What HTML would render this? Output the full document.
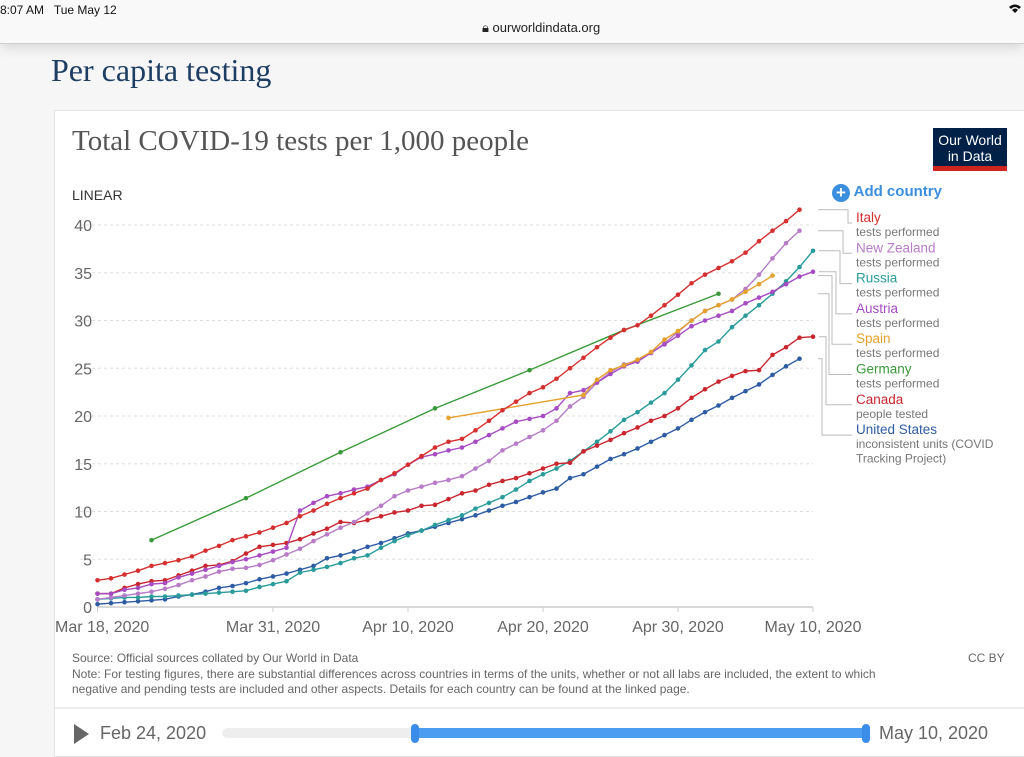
<!DOCTYPE html>
<html><head><meta charset="utf-8">
<style>
html,body{margin:0;padding:0;width:1024px;height:750px;overflow:hidden;background:#f6f6f6;font-family:"Liberation Sans",sans-serif;}
#topbar{position:absolute;left:0;top:0;width:1024px;height:43px;background:#f9f9f9;border-bottom:1px solid #cfcfcf;box-shadow:0 4px 12px rgba(0,0,0,0.12);}
.abs{position:absolute;}
#card{position:absolute;left:54px;top:110px;width:980px;height:645px;background:#fff;border:1px solid #e4e4e4;}
</style></head><body>
<div id="topbar">
  <div class="abs" style="left:0;top:3px;font-size:12px;color:#111">8:07 AM&nbsp;&nbsp; Tue May 12</div>
  <div class="abs" style="left:482px;top:20px;font-size:13px;color:#222">&#128274;&#xFE0E; ourworldindata.org</div>
  <svg class="abs" style="left:1008px;top:3px" width="14" height="11"><path d="M1 4 Q7 -1 13 4 L11 6 Q7 2 3 6Z M4 7 Q7 4 10 7 L7 10Z" fill="#111"/></svg>
</div>
<div class="abs" style="left:51px;top:52px;font-family:'Liberation Serif',serif;font-size:32px;color:#1d3d63">Per capita testing</div>
<div id="card"></div>
<div class="abs" style="left:72px;top:125px;font-family:'Liberation Serif',serif;font-size:29px;color:#555">Total COVID-19 tests per 1,000 people</div>
<div class="abs" style="left:933px;top:128px;width:74px;height:43px;background:#002147;color:#fff;font-size:14px;line-height:16px;text-align:center;border-bottom:5px solid #ce261e;box-sizing:border-box;padding-top:4px">Our World<br>in Data</div>
<div class="abs" style="left:72px;top:187px;font-size:14px;color:#333">LINEAR</div>
<div class="abs" style="left:832px;top:183px;font-size:15px;color:#3b8fde;font-weight:bold"><span style="display:inline-block;width:18px;height:18px;border-radius:9px;background:#3b8fde;color:#fff;text-align:center;line-height:18px;font-size:17px;vertical-align:-2px">+</span> Add country</div>

<svg id="chart" class="abs" style="left:0;top:0" width="1024" height="750"></svg>

<div class="abs" style="left:72px;top:651px;font-size:12px;color:#666;line-height:15.5px;width:900px">Source: Official sources collated by Our World in Data<br>Note: For testing figures, there are substantial differences across countries in terms of the units, whether or not all labs are included, the extent to which<br>negative and pending tests are included and other aspects. Details for each country can be found at the linked page.</div>
<div class="abs" style="left:968px;top:651px;font-size:12px;color:#666">CC BY</div>
<div class="abs" style="left:55px;top:707px;width:969px;height:2px;background:#ececec"></div>
<div class="abs" style="left:74px;top:724px;width:0;height:0;border-left:15px solid #666;border-top:10px solid transparent;border-bottom:10px solid transparent"></div>
<div class="abs" style="left:100px;top:723px;font-size:18px;color:#666">Feb 24, 2020</div>
<div class="abs" style="left:222px;top:728px;width:648px;height:10px;border-radius:5px;background:#eee"></div>
<div class="abs" style="left:414px;top:728px;width:456px;height:10px;background:#4a9df0"></div>
<div class="abs" style="left:411px;top:724px;width:8px;height:19px;border-radius:4px;background:#3a8de8"></div>
<div class="abs" style="left:862px;top:724px;width:8px;height:19px;border-radius:4px;background:#3a8de8"></div>
<div class="abs" style="left:879px;top:723px;font-size:18px;color:#666">May 10, 2020</div>

<script>
const yTicks=[0,5,10,15,20,25,30,35,40];
const xTickDays=[0,13,23,33,43,53];
const xTickLabels=["Mar 18, 2020","Mar 31, 2020","Apr 10, 2020","Apr 20, 2020","Apr 30, 2020","May 10, 2020"];
const countries=["Italy","New Zealand","Russia","Austria","Spain","Germany","Canada","United States"];
const subtitles=["tests performed","tests performed","tests performed","tests performed","tests performed","tests performed","people tested","inconsistent units (COVID|Tracking Project)"];
const colors=["#d62f2f","#b77bc8","#2a9b9b","#a74bc2","#e5a12a","#3a9a3a","#c9262f","#2e5ca3"];
const italyVals=[2.8,3.0,3.4,3.8,4.3,4.6,4.9,5.3,5.9,6.4,7.0,7.4,7.8,8.3,8.8,9.5,10.1,10.8,11.4,11.9,12.4,13.3,14.0,14.9,15.8,16.7,17.3,17.6,18.5,19.5,20.6,21.5,22.4,23.0,23.9,25.0,26.1,27.2,28.2,29.0,29.5,30.5,31.6,32.7,33.9,34.8,35.5,36.2,37.1,38.3,39.4,40.4,41.6];
const nzVals=[0.8,1.0,1.2,1.4,1.6,1.9,2.3,2.8,3.2,3.7,4.0,4.1,4.4,4.9,5.5,6.1,6.9,7.6,8.3,8.9,9.8,10.6,11.6,12.2,12.6,13.0,13.3,13.7,14.5,15.3,16.4,17.1,17.8,18.5,19.5,21.0,22.0,23.5,24.6,25.4,25.8,26.6,27.6,28.8,30.0,31.0,31.6,32.2,33.3,34.8,36.5,38.1,39.4];
const russiaVals=[0.8,0.9,1.0,1.0,1.1,1.1,1.2,1.3,1.4,1.5,1.6,1.7,2.1,2.4,2.7,3.6,3.9,4.2,4.6,5.1,5.4,6.2,6.9,7.5,8.0,8.6,9.1,9.6,10.3,10.9,11.5,12.3,13.2,13.9,14.5,15.3,16.3,17.3,18.4,19.6,20.4,21.4,22.4,23.8,25.3,26.9,27.8,29.3,30.5,31.6,32.8,34.1,35.6,37.3];
const austriaVals=[1.4,1.4,1.8,2.0,2.4,2.5,3.1,3.5,3.9,4.3,4.7,5.0,5.4,5.8,6.2,10.1,10.9,11.6,11.9,12.3,12.6,13.3,13.9,14.9,15.7,16.0,16.4,16.7,17.3,18.0,18.7,19.4,19.7,20.0,20.8,22.4,22.7,23.5,24.4,25.2,25.7,26.6,27.5,28.4,29.4,30.0,30.5,31.0,31.8,32.4,33.0,33.8,34.6,35.1];
const spainDays=[26,36,37,38,39,40,41,42,43,44,45,46,47,48,49,50];
const spainVals=[19.8,22.2,23.8,24.8,25.3,25.9,26.7,28.0,28.9,30.0,31.0,31.6,32.2,33.0,33.8,34.7];
const germanyDays=[4,11,18,25,32,39,46];
const germanyVals=[7.0,11.4,16.2,20.8,24.8,29.0,32.8];
const canadaVals=[1.4,1.4,2.0,2.4,2.7,2.8,3.3,3.8,4.3,4.4,4.8,5.6,6.3,6.5,6.7,7.1,7.7,8.2,8.9,8.8,9.1,9.5,9.9,10.1,10.6,10.7,11.3,11.9,12.2,12.8,13.2,13.5,14.0,14.5,15.0,15.1,16.3,16.9,17.5,18.2,18.8,19.5,20.0,20.8,21.9,22.8,23.6,24.2,24.7,24.8,26.4,27.2,28.2,28.3];
const usVals=[0.3,0.4,0.5,0.6,0.7,0.8,1.1,1.3,1.6,2.0,2.2,2.5,2.9,3.2,3.5,3.9,4.3,5.1,5.4,5.8,6.3,6.7,7.2,7.7,8.0,8.4,8.8,9.2,9.6,10.1,10.6,11.0,11.5,12.0,12.4,13.5,13.9,14.7,15.5,16.0,16.6,17.3,18.0,18.7,19.6,20.4,21.1,21.9,22.6,23.3,24.3,25.2,26.0];

const NS="http://www.w3.org/2000/svg";
const svg=document.getElementById('chart');
const X0=97.5,DX=13.5,Y0=607,DY=9.55;
function xs(d){return X0+d*DX;}
function ys(v){return Y0-v*DY;}
function mk(tag,attrs,parent){const e=document.createElementNS(NS,tag);for(const k in attrs)e.setAttribute(k,attrs[k]);(parent||svg).appendChild(e);return e;}
function seq(n){const a=[];for(let i=0;i<n;i++)a.push(i);return a;}

yTicks.forEach(t=>{
  if(t>0){const g=mk('line',{x1:80,x2:813,y1:ys(t),y2:ys(t),stroke:'#ddd','stroke-dasharray':'3,3'});
  
  }
  const tx=mk('text',{x:92,y:ys(t)+6,'text-anchor':'end','font-size':16,fill:'#666','font-family':'Liberation Sans,sans-serif'});
  tx.textContent=t;
  
  
});
const ax=mk('line',{x1:97,x2:813,y1:Y0,y2:Y0,stroke:'#ccc','stroke-width':1.5});


xTickDays.forEach((d,i)=>{
  mk('line',{x1:xs(d),x2:xs(d),y1:Y0,y2:Y0+5,stroke:'#ccc'});
  const tx=mk('text',{x:i==0?55:xs(d),y:632,'text-anchor':i==0?'start':'middle','font-size':16,fill:'#666','font-family':'Liberation Sans,sans-serif'});
  tx.textContent=xTickLabels[i];
  
  
});

const series=[
 [seq(italyVals.length),italyVals],[seq(nzVals.length),nzVals],[seq(russiaVals.length),russiaVals],
 [seq(austriaVals.length),austriaVals],[spainDays,spainVals],[germanyDays,germanyVals],
 [seq(canadaVals.length),canadaVals],[seq(usVals.length),usVals]];
const drawOrder=[7,2,6,1,3,4,5,0];
drawOrder.forEach(i=>{
  const [days,vals]=series[i];
  const g=mk('g',{});
  
  
  const pts=days.map((d,k)=>xs(d)+','+ys(vals[k])).join(' ');
  mk('polyline',{points:pts,fill:'none',stroke:colors[i],'stroke-width':1.4},g);
  days.forEach((d,k)=>{
    const c=mk('circle',{cx:xs(d),cy:ys(vals[k]),r:2.3,fill:colors[i]},g);
    
    
  });
});

const elbowX=[848,843,840,836,832,829,826,822];
countries.forEach((c,i)=>{
  const [days,vals]=series[i];
  const ly=217+i*30.3;
  const ey=ys(vals[vals.length-1]);
  const lx=xs(days[days.length-1])+6;
  const cn=mk('polyline',{points:`${Math.max(lx,818)},${ey} ${elbowX[i]},${ey} ${elbowX[i]},${ly+6} ${852},${ly+6}`,fill:'none',stroke:'#bbb','stroke-width':1});
  
  
  const t=mk('text',{x:856,y:ly+5,'font-size':13.5,fill:colors[i],'font-family':'Liberation Sans,sans-serif'});
  t.textContent=c;
  
  
  subtitles[i].split('|').forEach((s,k)=>{
    const st=mk('text',{x:856,y:ly+19+k*14.5,'font-size':12,fill:'#777','font-family':'Liberation Sans,sans-serif'});
    st.textContent=s;
    
    
  });
});
</script>
</body></html>
